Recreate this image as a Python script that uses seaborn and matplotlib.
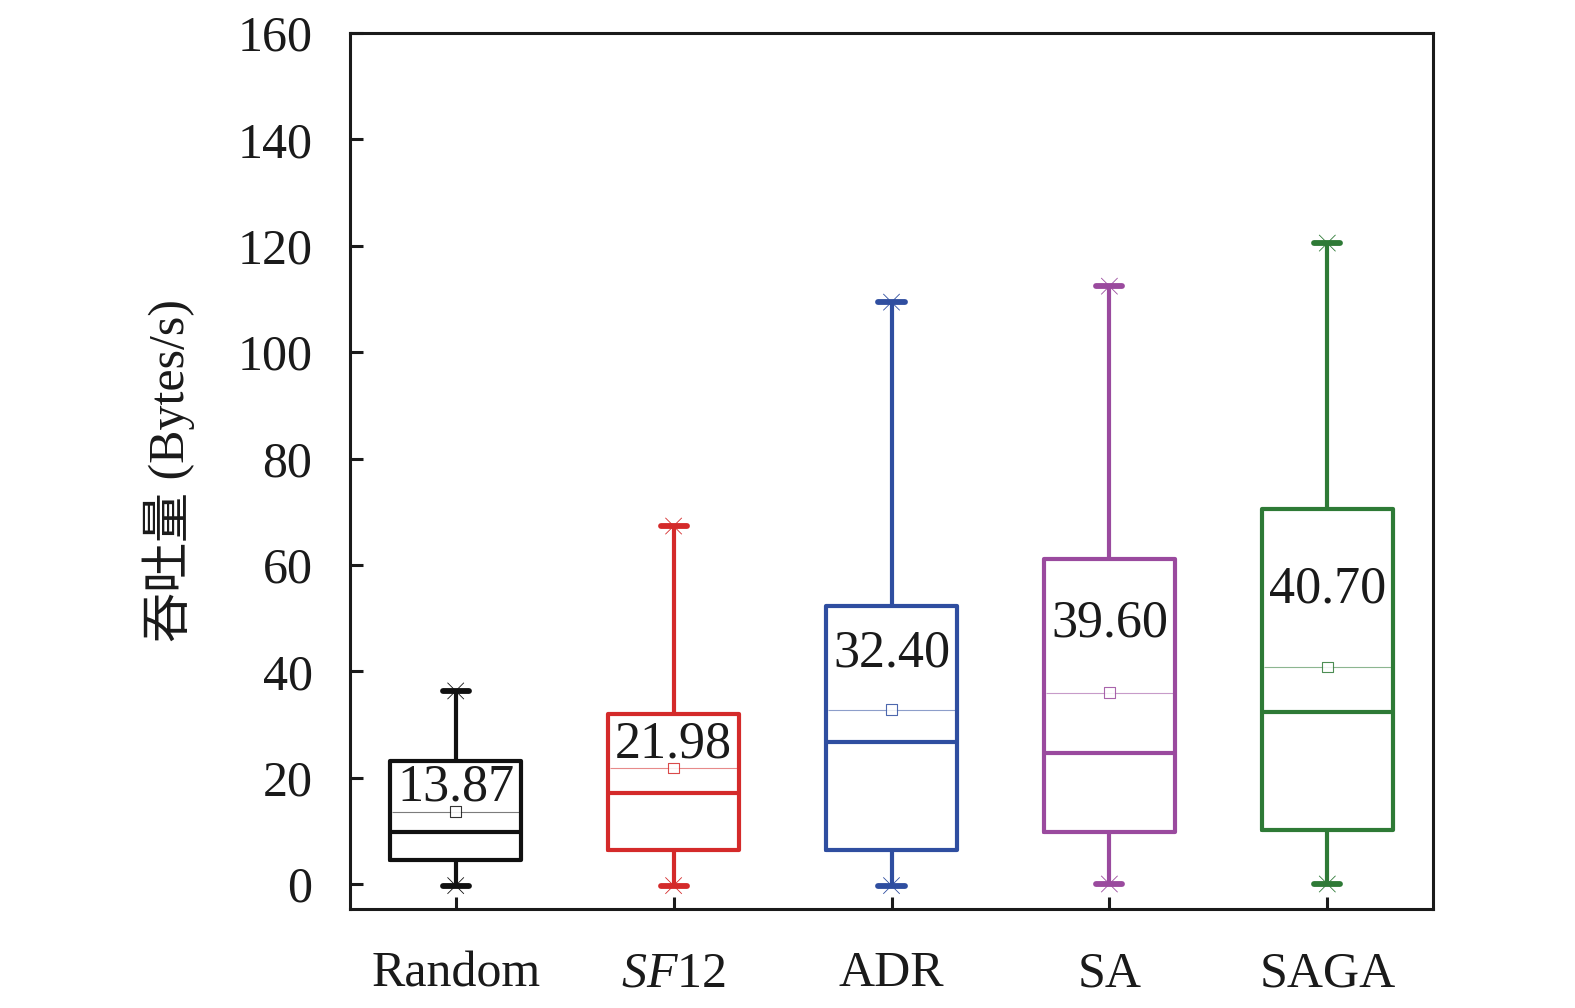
import numpy as np
import pandas as pd
import matplotlib
matplotlib.use("Agg")
import matplotlib.pyplot as plt
import seaborn as sns

categories = ["Random", "SF12", "ADR", "SA", "SAGA"]
tick_labels = ["Random", r"$\mathit{SF}$12", "ADR", "SA", "SAGA"]
whisker_low = [-0.3, -0.3, -0.3, 0.0, 0.0]
q1 = [4.5, 6.3, 6.4, 9.8, 10.2]
median = [9.8, 17.2, 26.7, 24.6, 32.3]
q3 = [23.2, 32.0, 52.3, 61.1, 70.5]
whisker_high = [36.3, 67.3, 109.4, 112.4, 120.5]
means = [13.6, 21.8, 32.8, 36.0, 40.8]
mean_text = ["13.87", "21.98", "32.40", "39.60", "40.70"]
text_y = [15.7, 23.8, 40.8, 46.6, 53.0]
colors = ["#111111", "#d42a2a", "#2f4ea0", "#9a4a9e", "#2e7a36"]

sns.set_style("white")
plt.rcParams["font.family"] = ["Liberation Serif", "Noto Sans CJK SC"]
plt.rcParams["mathtext.fontset"] = "custom"
plt.rcParams["mathtext.rm"] = "Liberation Serif"
plt.rcParams["mathtext.it"] = "Liberation Serif:italic"

# five-number summary per group -> box stats with whiskers at min/max
rows = []
for i, c in enumerate(categories):
    for v in (whisker_low[i], q1[i], median[i], q3[i], whisker_high[i]):
        rows.append({"method": c, "value": v})
df = pd.DataFrame(rows)

fig = plt.figure(figsize=(15.75, 10.08), dpi=100)
ax = fig.add_axes([350 / 1575, 1 - 909 / 1008, 1083 / 1575, 876 / 1008])

sns.boxplot(data=df, x="method", y="value", hue="method", palette=colors,
            order=categories, hue_order=categories, fill=False, whis=(0, 100),
            width=0.6, linewidth=3.0, legend=False, ax=ax,
            capwidths=0.12,
            capprops=dict(linewidth=4.2, solid_capstyle="round"))

pos = np.arange(len(categories))
ax.hlines(means, pos - 0.29, pos + 0.29, colors=colors, linewidth=0.8, alpha=0.55)
ax.scatter(pos, means, marker="s", s=60, facecolors="white",
           edgecolors=colors, linewidths=0.8, alpha=0.85, zorder=5)
ax.scatter(pos, whisker_high, marker="x", s=140, c=colors, linewidths=0.6, zorder=5)
ax.scatter(pos, whisker_low, marker="x", s=140, c=colors, linewidths=0.6, zorder=5)

for i in range(len(categories)):
    ax.text(pos[i], text_y[i], mean_text[i], ha="center", va="baseline",
            fontsize=37.5, color="#1a1a1a")

ax.set_xlim(-0.485, 4.485)
ax.set_ylim(-4.7, 160)
ax.set_yticks(np.arange(0, 161, 20))
ax.set_xticks(pos)
ax.set_xticklabels(tick_labels)
ax.set_xlabel("")
ax.set_ylabel("吞吐量 (Bytes/s)", fontsize=36, color="#1a1a1a")
ax.yaxis.set_label_coords(-0.143, 0.5)

for s in ax.spines.values():
    s.set_linewidth(2.2)
    s.set_color("#1a1a1a")
ax.tick_params(axis="y", direction="in", length=9, width=2.2, labelsize=36,
               pad=27, colors="#1a1a1a", left=True)
ax.tick_params(axis="x", direction="in", length=9, width=2.2, labelsize=36,
               pad=30, colors="#1a1a1a", bottom=True)

fig.savefig("out.png", dpi=100)
